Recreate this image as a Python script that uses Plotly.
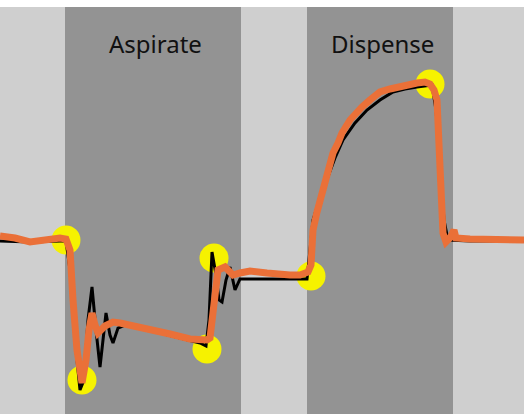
import plotly.graph_objects as go

# Time axis (arbitrary units) and pressure signal (arbitrary units)
raw_t = [0, 30, 60, 66, 70, 75, 80, 84, 88, 92, 96, 100, 103, 106, 110, 113, 118, 125, 140, 160,
         180, 200, 206, 209, 212, 216, 219, 222, 226, 230, 235, 240, 260, 290, 307, 309, 313, 320,
         327, 335, 343, 355, 367, 380, 393, 405, 417, 432, 436, 440, 444, 448, 470, 500, 524]
raw_p = [173, 172, 173, 173, 144, 74, 24, 34, 94, 127, 84, 47, 74, 101, 79, 71, 86, 89, 86, 81,
         76, 71, 68, 94, 162, 139, 114, 112, 134, 147, 124, 135, 135, 135, 135, 154, 194, 216,
         234, 256, 274, 291, 304, 314, 322, 325, 327, 329, 304, 244, 194, 174, 173, 173, 173]

smooth_t = [0, 15, 30, 45, 60, 66, 70, 73, 77, 82, 86, 89, 92, 95, 98, 105, 113, 120, 130, 150,
            170, 190, 207, 210, 214, 218, 225, 229, 233, 240, 250, 267, 280, 290, 300, 308, 311,
            313, 317, 320, 325, 328, 333, 338, 342, 350, 356, 362, 370, 380, 390, 397, 407, 417,
            425, 430, 434, 437, 440, 443, 446, 450, 454, 456, 470, 490, 510, 524]
smooth_p = [178, 176, 172, 174, 176, 175, 164, 114, 64, 31, 54, 84, 101, 89, 81, 88, 92, 91, 89, 85,
            80, 75, 74, 76, 114, 144, 147, 142, 139, 141, 143, 141, 139, 139, 139, 142, 149,
            184, 202, 214, 234, 247, 261, 271, 281, 294, 301, 307, 314, 322, 325, 327, 329, 331,
            332, 330, 324, 314, 247, 181, 172, 176, 184, 176, 175, 174, 173, 174]

event_t = [66, 82, 207, 214, 311, 430]
event_p = [174, 34, 65, 156, 138, 330]

phase_names = ["Aspirate", "Dispense"]
phase_start = [65, 307]
phase_end = [241, 453]

fig = go.Figure()

for s, e in zip(phase_start, phase_end):
    fig.add_shape(type="rect", xref="x", yref="paper", x0=s, x1=e, y0=0, y1=1,
                  fillcolor="#939393", line_width=0, layer="below")

fig.add_trace(go.Scatter(x=event_t, y=event_p, mode="markers",
                         marker=dict(size=29, color="#f6f200", line_width=0),
                         hoverinfo="skip", showlegend=False))
fig.add_trace(go.Scatter(x=raw_t, y=raw_p, mode="lines",
                         line=dict(color="black", width=3), showlegend=False))
fig.add_trace(go.Scatter(x=smooth_t, y=smooth_p, mode="lines",
                         line=dict(color="#ea7038", width=7), showlegend=False))

for name, s, e in zip(phase_names, phase_start, phase_end):
    fig.add_annotation(x=(s + e) / 2 + 2, y=371, text=name, showarrow=False,
                       font=dict(family="Noto Sans", size=24, color="#111111"),
                       xanchor="center", yanchor="middle")

fig.update_layout(
    width=524, height=414,
    margin=dict(l=0, r=0, t=7, b=0),
    paper_bgcolor="white",
    plot_bgcolor="#cfcfcf",
    xaxis=dict(range=[0, 524], visible=False, fixedrange=True),
    yaxis=dict(range=[0, 407], visible=False, fixedrange=True),
    showlegend=False,
)

fig.write_html("out.html", config={"displayModeBar": False},
               post_script="document.body.style.margin='0';document.body.style.padding='0';")
